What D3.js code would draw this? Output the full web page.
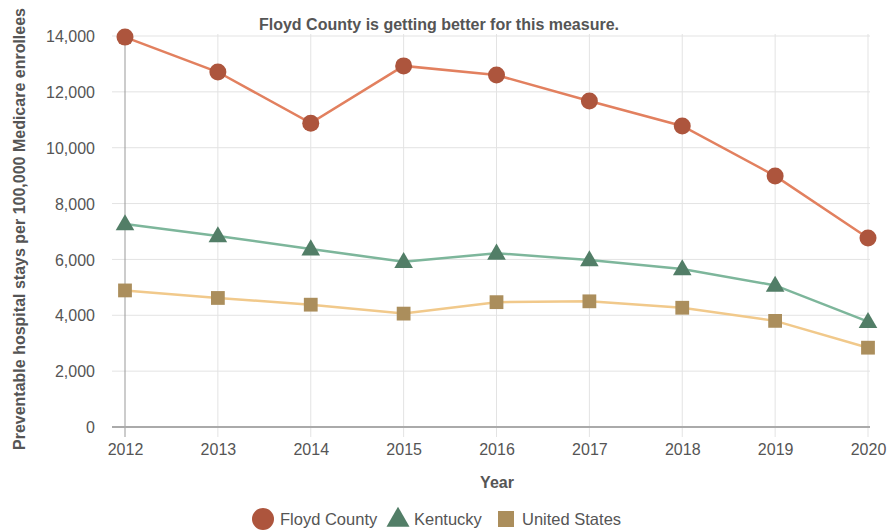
<!DOCTYPE html>
<html>
<head>
<meta charset="utf-8">
<script src="https://cdn.jsdelivr.net/npm/d3@7"></script>
<style>
  html, body { margin: 0; padding: 0; background: #fff; }
  svg { display: block; font-family: "Liberation Sans", Arial, Helvetica, sans-serif; }
</style>
</head>
<body>
<svg id="chart" width="891" height="532"></svg>
<script>
// Preventable hospital stays per 100,000 Medicare enrollees
const years = [2012, 2013, 2014, 2015, 2016, 2017, 2018, 2019, 2020];
const floydCounty = [13960, 12710, 10880, 12930, 12600, 11670, 10780, 8990, 6770];
const kentucky = [7270, 6840, 6370, 5920, 6220, 5980, 5660, 5070, 3770];
const unitedStates = [4890, 4620, 4380, 4060, 4470, 4500, 4270, 3800, 2840];
const yTicks = [0, 2000, 4000, 6000, 8000, 10000, 12000, 14000];

const series = [
  { name: "Floyd County", values: floydCounty, line: "#e2805f", marker: "#ad553d", shape: "circle" },
  { name: "Kentucky", values: kentucky, line: "#7db69b", marker: "#527e67", shape: "triangle" },
  { name: "United States", values: unitedStates, line: "#f1c98b", marker: "#ab8e5c", shape: "square" }
];

const svg = d3.select("#chart");
const plotLeft = 125, plotRight = 868, plotTop = 36, plotBottom = 427;
const textColor = "#555";

const x = d3.scalePoint().domain(years).range([plotLeft, plotRight]);
const y = d3.scaleLinear().domain([0, 14000]).range([plotBottom, plotTop]);

// Grid
const grid = svg.append("g");
grid.selectAll("line.h").data(yTicks.filter(d => d > 0)).join("line")
  .attr("x1", 112).attr("x2", 870)
  .attr("y1", d => y(d)).attr("y2", d => y(d))
  .attr("stroke", "#e3e3e3").attr("stroke-width", 1);
grid.selectAll("line.v").data(years.slice(1)).join("line")
  .attr("x1", d => x(d)).attr("x2", d => x(d))
  .attr("y1", plotTop - 2).attr("y2", plotBottom + 10)
  .attr("stroke", "#e3e3e3").attr("stroke-width", 1);

// Axis lines
svg.append("line")
  .attr("x1", x(years[0])).attr("x2", x(years[0]))
  .attr("y1", plotTop - 2).attr("y2", plotBottom + 10)
  .attr("stroke", "#999").attr("stroke-width", 1);
svg.append("line")
  .attr("x1", 112).attr("x2", 870)
  .attr("y1", plotBottom).attr("y2", plotBottom)
  .attr("stroke", "#aaa").attr("stroke-width", 2);

// Tick labels
const yAxis = d3.axisLeft(y).tickValues(yTicks).tickSize(0).tickPadding(0).tickFormat(d3.format(","));
const gy = svg.append("g").attr("transform", `translate(${95},0)`).call(yAxis);
gy.select(".domain").remove();
gy.selectAll("text").attr("font-size", 16).attr("fill", textColor).attr("dy", "0.35em")
  .style("font-family", "inherit");

const xAxis = d3.axisBottom(x).tickSize(0).tickPadding(0).tickFormat(d3.format("d"));
const gx = svg.append("g").attr("transform", `translate(0,${449})`).call(xAxis);
gx.select(".domain").remove();
gx.selectAll("text").attr("font-size", 16).attr("fill", textColor).attr("dy", "0.35em")
  .style("font-family", "inherit");

// Titles
svg.append("text").attr("x", 439).attr("y", 30).attr("text-anchor", "middle")
  .attr("font-size", 16).attr("font-weight", "bold").attr("fill", textColor)
  .text("Floyd County is getting better for this measure.");
svg.append("text").attr("x", 497).attr("y", 488).attr("text-anchor", "middle")
  .attr("font-size", 16).attr("font-weight", "bold").attr("fill", textColor)
  .text("Year");
svg.append("text").attr("transform", `translate(25,${229}) rotate(-90)`).attr("text-anchor", "middle")
  .attr("font-size", 16).attr("font-weight", "bold").attr("fill", textColor)
  .text("Preventable hospital stays per 100,000 Medicare enrollees");

// Markers
const symbolFor = {
  circle: d3.symbol().type(d3.symbolCircle).size(Math.PI * 8.5 * 8.5),
  triangle: d3.symbol().type(d3.symbolTriangle).size(150),
  square: d3.symbol().type(d3.symbolSquare).size(190)
};

const line = d3.line().x((d, i) => x(years[i])).y(d => y(d));

// Draw back to front so Floyd County sits on top
[...series].reverse().forEach(s => {
  svg.append("path").datum(s.values)
    .attr("d", line).attr("fill", "none")
    .attr("stroke", s.line).attr("stroke-width", 2.5);
  svg.append("g").selectAll("path").data(s.values).join("path")
    .attr("transform", (d, i) => `translate(${x(years[i])},${y(d) + (s.shape === "triangle" ? 1 : 0)})`)
    .attr("d", symbolFor[s.shape]())
    .attr("fill", s.marker);
});

// Legend
const legendX = [263, 398, 506];
const legend = svg.append("g");
series.forEach((s, i) => {
  const g = legend.append("g").attr("transform", `translate(${legendX[i]},${519})`);
  const sym = s.shape === "circle" ? d3.symbol().type(d3.symbolCircle).size(Math.PI * 11 * 11)
    : s.shape === "triangle" ? d3.symbol().type(d3.symbolTriangle).size(230)
    : d3.symbol().type(d3.symbolSquare).size(256);
  g.append("path").attr("d", sym()).attr("fill", s.marker)
    .attr("transform", s.shape === "triangle" ? "translate(0,1)" : null);
  g.append("text").attr("x", s.shape === "circle" ? 17 : 16).attr("y", 0).attr("dy", "0.35em")
    .attr("font-size", 16.5).attr("fill", textColor).text(s.name);
});
</script>
</body>
</html>
